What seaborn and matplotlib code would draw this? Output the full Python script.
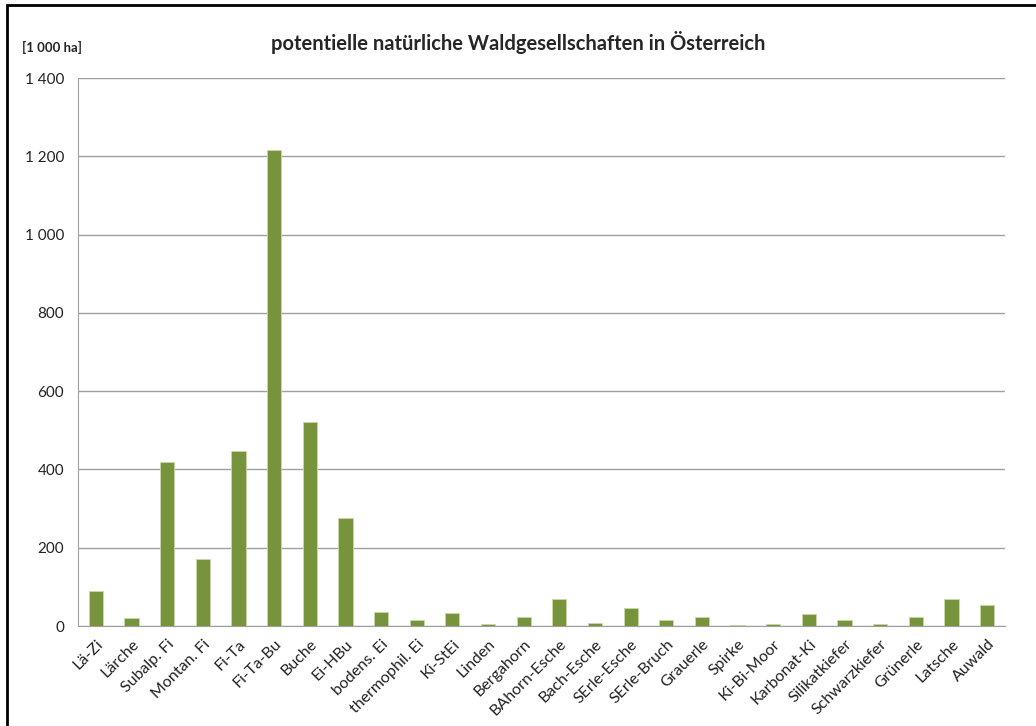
import matplotlib
matplotlib.use("Agg")
import matplotlib.pyplot as plt
import seaborn as sns
import pandas as pd
from matplotlib.patches import Rectangle
from matplotlib.ticker import FuncFormatter

# Waldgesellschaften und Flächen [1 000 ha]
gesellschaften = [
    "Lä-Zi", "Lärche", "Subalp. Fi", "Montan. Fi", "Fi-Ta", "Fi-Ta-Bu", "Buche",
    "Ei-HBu", "bodens. Ei", "thermophil. Ei", "Ki-StEi", "Linden", "Bergahorn",
    "BAhorn-Esche", "Bach-Esche", "SErle-Esche", "SErle-Bruch", "Grauerle",
    "Spirke", "Ki-Bi-Moor", "Karbonat-Ki", "Silikatkiefer", "Schwarzkiefer",
    "Grünerle", "Latsche", "Auwald",
]
flaeche = [
    89, 20, 418, 172, 447, 1216, 521,
    277, 37, 16, 34, 5, 22,
    70, 7, 47, 16, 22,
    3, 5, 31, 16, 5,
    24, 68, 53,
]
y_ticks = [0, 200, 400, 600, 800, 1000, 1200, 1400]

df = pd.DataFrame({"Gesellschaft": gesellschaften, "Fläche": flaeche})

sns.set_style("white")
plt.rcParams["font.family"] = ["Lato", "DejaVu Sans"]

fig = plt.figure(figsize=(10.36, 7.26), dpi=100)
ax = fig.add_axes([78 / 1036, 1 - 626 / 726, 927 / 1036, 548 / 726])

sns.barplot(data=df, x="Gesellschaft", y="Fläche", color="#77933C",
            width=0.4, saturation=1, edgecolor="#C9D9A8", linewidth=0.6, ax=ax)

ax.set_ylim(0, 1400)
ax.set_yticks(y_ticks)
ax.yaxis.set_major_formatter(FuncFormatter(lambda v, p: f"{int(v):,}".replace(",", " ")))
ax.grid(axis="y", color="#A0A0A0", linewidth=1)
ax.set_axisbelow(True)
for s in ["top", "right"]:
    ax.spines[s].set_visible(False)
ax.spines["left"].set_color("#A0A0A0")
ax.spines["bottom"].set_color("#A0A0A0")
ax.tick_params(axis="y", length=0, labelsize=11, colors="#222222", pad=10)
ax.tick_params(axis="x", length=0, labelsize=11.5, colors="#222222", pad=8)
plt.setp(ax.get_xticklabels(), rotation=45, ha="right", rotation_mode="anchor")
ax.set_xlabel("")
ax.set_ylabel("")

fig.text(518 / 1036, 1 - 42 / 726, "potentielle natürliche Waldgesellschaften in Österreich",
         ha="center", va="center", fontsize=14.5, fontweight="bold")
fig.text(22 / 1036, 1 - 47 / 726, "[1 000 ha]", ha="left", va="center",
         fontsize=9.5, fontweight="bold")

# Diagrammrahmen (rechts und unten abgeschnitten)
fig.patches.append(Rectangle((7 / 1036, -0.05), 1.1, 1 - 5 / 726 + 0.05,
                             transform=fig.transFigure, fill=False,
                             edgecolor="black", linewidth=2))

plt.savefig("out.png", dpi=100)
plt.close()
